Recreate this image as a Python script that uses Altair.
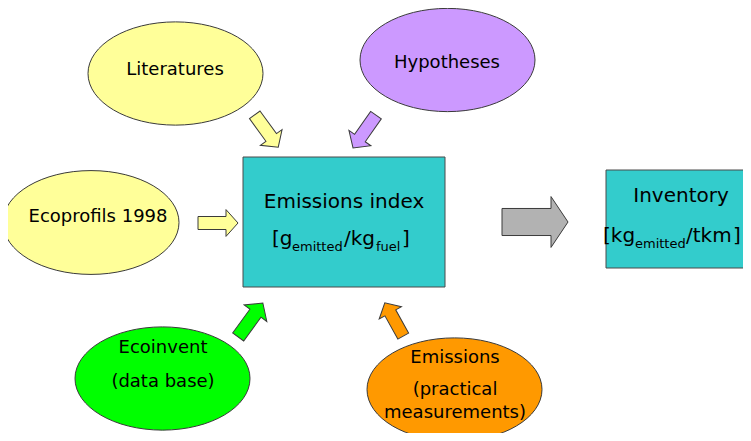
import altair as alt
import pandas as pd

# ---- ellipses (centre, horizontal radius, fill) ----
ell_name = ["Literatures", "Hypotheses", "Ecoprofils 1998", "Ecoinvent", "Emissions"]
ell_cx = [175.5, 447.5, 91, 162.5, 454.5]
ell_cy = [73.5, 60, 222.5, 378.5, 389.5]
ell_rx = [87.5, 87.5, 88, 87.5, 87.5]
ell_fill = ["#FFFF99", "#CC99FF", "#FFFF99", "#00FF00", "#FF9900"]

# ---- boxes ----
box_name = ["Emissions index", "Inventory"]
box_x = [243, 606]
box_x2 = [445, 770]
box_y = [157, 170]
box_y2 = [287, 268]

# ---- block arrows ----
arr_cx = [266.5, 364.5, 218, 250.5, 394, 535]
arr_cy = [131, 131.5, 223, 320, 319.5, 222]
arr_len = [40, 40, 40, 42, 38, 66]
arr_angle = [54, 125, 0, 306, 241, 0]
arr_fill = ["#FFFF99", "#CC99FF", "#FFFF99", "#00FF00", "#FF9900", "#B2B2B2"]
arr_kind = ["small", "small", "small", "small", "small", "big"]

# ---- centred labels ----
lbl_text = ["Literatures", "Hypotheses", "Ecoprofils 1998", "Ecoinvent", "(data base)",
            "Emissions", "(practical", "measurements)", "Emissions index", "Inventory"]
lbl_x = [175, 447, 98, 163, 163, 455, 455, 455, 344, 681]
lbl_y = [70, 63, 217, 348, 382, 358, 390, 413, 202, 196]
lbl_size = [18, 18, 18, 18, 18, 18, 18, 18, 20, 20]

# ---- unit strings with subscripts (left aligned pieces) ----
unit_text = ["[g", "emitted", "/kg", "fuel", "]", "[kg", "emitted", "/tkm", "]"]
unit_x = [272, 292, 344, 376, 402, 603, 635, 686, 733]
unit_y = [245, 251, 245, 251, 245, 242, 248, 242, 242]
unit_size = [20, 13, 20, 13, 20, 20, 13, 20, 20]

ell_df = pd.DataFrame({"name": ell_name, "cx": ell_cx, "cy": ell_cy,
                       "size": [(2 * r) ** 2 for r in ell_rx], "fill": ell_fill})
box_df = pd.DataFrame({"name": box_name, "x": box_x, "x2": box_x2, "y": box_y, "y2": box_y2})
arr_df = pd.DataFrame({"cx": arr_cx, "cy": arr_cy, "size": [l ** 2 for l in arr_len],
                       "angle": arr_angle, "fill": arr_fill, "kind": arr_kind})
lbl_df = pd.DataFrame({"text": lbl_text, "x": lbl_x, "y": lbl_y, "size": lbl_size})
unit_df = pd.DataFrame({"text": unit_text, "x": unit_x, "y": unit_y, "size": unit_size})

xs = alt.Scale(domain=[8, 743], nice=False, zero=False)
ys = alt.Scale(domain=[8, 433], nice=False, zero=False, reverse=True)

ELLIPSE = ("M -1 0 C -1 -0.3259 -0.5523 -0.59 0 -0.59 C 0.5523 -0.59 1 -0.3259 1 0 "
           "C 1 0.3259 0.5523 0.59 0 0.59 C -0.5523 0.59 -1 0.3259 -1 0 Z")
ARROW_SMALL = "M -1 -0.325 L 0.4 -0.325 L 0.4 -0.67 L 1 0 L 0.4 0.67 L 0.4 0.325 L -1 0.325 Z"
ARROW_BIG = "M -1 -0.41 L 0.485 -0.41 L 0.485 -0.77 L 1 0 L 0.485 0.77 L 0.485 0.41 L -1 0.41 Z"

ellipses = alt.Chart(ell_df).mark_point(
    shape=ELLIPSE, filled=True, opacity=1, fillOpacity=1,
    stroke="#3a3a3a", strokeWidth=1, strokeOpacity=1
).encode(
    x=alt.X("cx:Q", scale=xs, axis=None),
    y=alt.Y("cy:Q", scale=ys, axis=None),
    size=alt.Size("size:Q", scale=None, legend=None),
    fill=alt.Fill("fill:N", scale=None, legend=None),
)

def arrows(kind, path):
    return alt.Chart(arr_df).transform_filter(alt.datum.kind == kind).mark_point(
        shape=path, filled=True, opacity=1, fillOpacity=1,
        stroke="#3a3a3a", strokeWidth=1, strokeOpacity=1
    ).encode(
        x=alt.X("cx:Q", scale=xs, axis=None),
        y=alt.Y("cy:Q", scale=ys, axis=None),
        size=alt.Size("size:Q", scale=None, legend=None),
        angle=alt.Angle("angle:Q", scale=None, legend=None),
        fill=alt.Fill("fill:N", scale=None, legend=None),
    )

boxes = alt.Chart(box_df).mark_rect(
    fill="#33CCCC", stroke="#4a4a4a", strokeWidth=1
).encode(
    x=alt.X("x:Q", scale=xs, axis=None),
    x2="x2:Q",
    y=alt.Y("y:Q", scale=ys, axis=None),
    y2="y2:Q",
)

labels = alt.Chart(lbl_df).mark_text(
    font="DejaVu Sans", color="#000000", align="center", baseline="middle"
).encode(
    x=alt.X("x:Q", scale=xs, axis=None),
    y=alt.Y("y:Q", scale=ys, axis=None),
    size=alt.Size("size:Q", scale=None, legend=None),
    text="text:N",
)

units = alt.Chart(unit_df).mark_text(
    font="DejaVu Sans", color="#000000", align="left", baseline="alphabetic"
).encode(
    x=alt.X("x:Q", scale=xs, axis=None),
    y=alt.Y("y:Q", scale=ys, axis=None),
    size=alt.Size("size:Q", scale=None, legend=None),
    text="text:N",
)

chart = alt.layer(
    ellipses, arrows("small", ARROW_SMALL), arrows("big", ARROW_BIG), boxes, labels, units
).properties(
    width=735, height=425, padding=0, autosize="none", background="white"
).configure_view(stroke=None)

chart.save("out.html", embed_options={"renderer": "svg", "actions": False})
